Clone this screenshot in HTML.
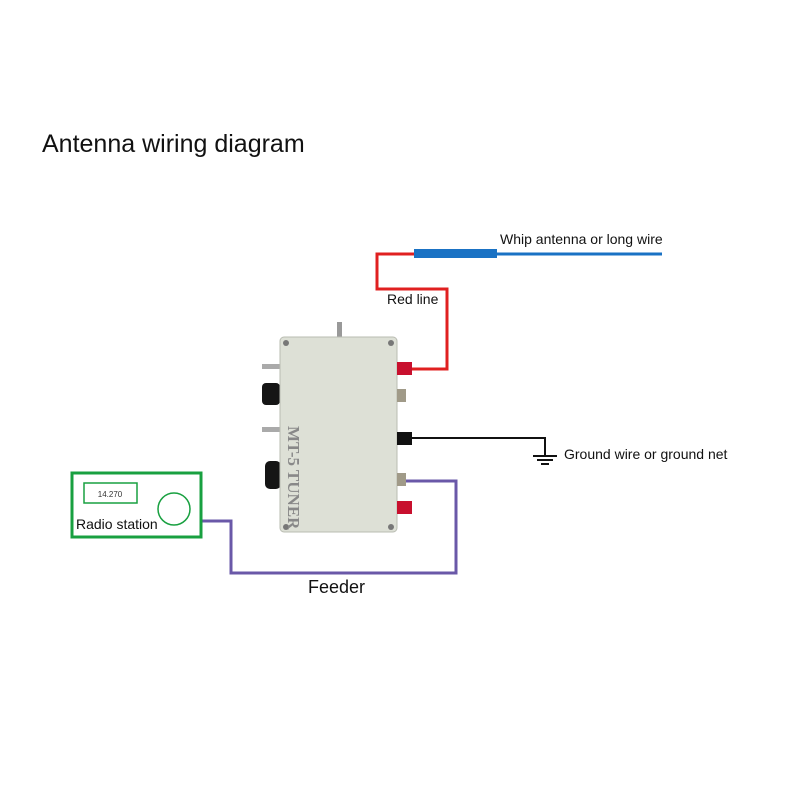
<!DOCTYPE html>
<html><head><style>body{margin:0;background:#fff}svg{display:block}</style></head><body>
<svg width="800" height="800" viewBox="0 0 800 800" xmlns="http://www.w3.org/2000/svg" font-family="Liberation Sans, sans-serif">
<rect width="800" height="800" fill="#fff"/>
<text x="42" y="152" font-size="25" fill="#111">Antenna wiring diagram</text>
<rect x="414" y="249" width="83" height="9" fill="#1a72c4"/>
<line x1="497" y1="254" x2="662" y2="254" stroke="#1a72c4" stroke-width="3"/>
<text x="500" y="244" font-size="14" fill="#111">Whip antenna or long wire</text>
<polyline points="414,254 377,254 377,289 447,289 447,369 412,369" fill="none" stroke="#e02020" stroke-width="3"/>
<text x="387" y="304" font-size="14" fill="#111">Red line</text>
<polyline points="405,438 545,438 545,456" fill="none" stroke="#111" stroke-width="2"/>
<line x1="533" y1="456" x2="557" y2="456" stroke="#111" stroke-width="2"/>
<line x1="537" y1="460" x2="553" y2="460" stroke="#111" stroke-width="2"/>
<line x1="541" y1="464" x2="549" y2="464" stroke="#111" stroke-width="2"/>
<text x="564" y="459" font-size="14" fill="#111">Ground wire or ground net</text>
<polyline points="202,521 231,521 231,573 456,573 456,481 405,481" fill="none" stroke="#6a58a8" stroke-width="3"/>
<text x="308" y="593" font-size="18" fill="#111">Feeder</text>
<rect x="72" y="473" width="129" height="64" fill="#fff" stroke="#18a040" stroke-width="3"/>
<rect x="84" y="483" width="53" height="20" fill="none" stroke="#18a040" stroke-width="1.5"/>
<text x="110" y="497" font-size="8" fill="#333" text-anchor="middle">14.270</text>
<circle cx="174" cy="509" r="16" fill="none" stroke="#18a040" stroke-width="1.5"/>
<text x="76" y="529" font-size="14" fill="#111">Radio station</text>
<rect x="337" y="322" width="5" height="18" fill="#999"/>
<rect x="262" y="364" width="20" height="5" fill="#aaa"/>
<rect x="262" y="427" width="20" height="5" fill="#aaa"/>
<rect x="262" y="383" width="18" height="22" rx="4" fill="#151515"/>
<rect x="265" y="461" width="16" height="28" rx="5" fill="#151515"/>
<rect x="280" y="337" width="117" height="195" rx="4" fill="#dde0d6" stroke="#b9bcb2" stroke-width="1"/>
<circle cx="286" cy="343" r="3" fill="#777"/><circle cx="391" cy="343" r="3" fill="#777"/>
<circle cx="286" cy="527" r="3" fill="#777"/><circle cx="391" cy="527" r="3" fill="#777"/>
<text transform="translate(288,426) rotate(90)" font-family="Liberation Serif, serif" font-weight="bold" font-size="17" fill="#888">MT-5 TUNER</text>
<rect x="397" y="362" width="15" height="13" fill="#c8102e"/>
<rect x="397" y="389" width="9" height="13" fill="#a09a88"/>
<rect x="397" y="432" width="15" height="13" fill="#111"/>
<rect x="397" y="473" width="9" height="13" fill="#a09a88"/>
<rect x="397" y="501" width="15" height="13" fill="#c8102e"/>
</svg>
</body></html>
